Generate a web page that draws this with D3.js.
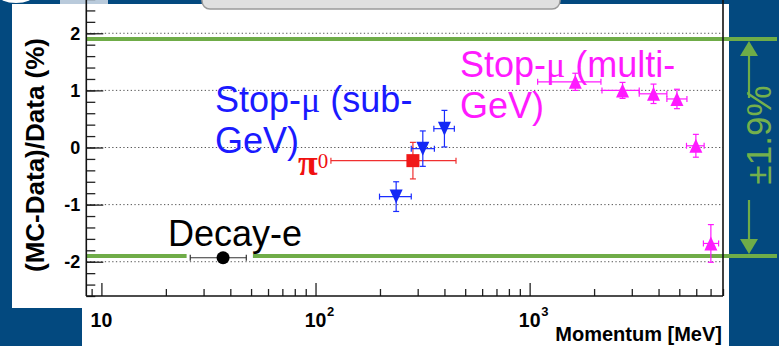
<!DOCTYPE html>
<html><head><meta charset="utf-8">
<script src="https://cdn.jsdelivr.net/npm/d3@7"></script>
<style>
html,body{margin:0;padding:0;background:#03497f;}
svg{display:block;}
</style></head>
<body>
<svg id="chart" width="779" height="346"></svg>
<script>
// ---- axis ticks ----
const yMajor = [-2, -1, 0, 1, 2];
const yMajorLabels = ["-2", "-1", "0", "1", "2"];
const yMinor = d3.range(-26, 27, 2).map(v => v / 10);
const xMajor = [10, 100, 1000];
const xMajorBase = ["10", "10", "10"];
const xMajorExp = ["", "2", "3"];
const xMinor = [9, 20, 30, 40, 50, 60, 70, 80, 90,
                200, 300, 400, 500, 600, 700, 800, 900,
                2000, 3000, 4000, 5000, 6000, 7000, 8000];

// ---- Decay-e ----
const decayMom = [37];
const decayVal = [-1.93];
const decayMomLo = [26];
const decayMomHi = [47.5];

// ---- pi0 ----
const pi0Mom = [285];
const pi0Val = [-0.23];
const pi0MomLo = [118];
const pi0MomHi = [453];
const pi0Err = [0.32];

// ---- Stop-mu (sub-GeV) ----
const subMom = [238, 317, 400];
const subVal = [-0.86, -0.02, 0.33];
const subMomLo = [199, 280, 357];
const subMomHi = [280, 359, 445];
const subErr = [0.26, 0.31, 0.32];

// ---- Stop-mu (multi-GeV) ----
const multiMom = [1634, 2716, 3790, 4875, 5976, 7022];
const multiVal = [1.15, 1.0, 0.94, 0.85, 0.03, -1.68];
const multiMomLo = [1090, 2177, 3250, 4375, 5402, 6480];
const multiMomHi = [2153, 3250, 4375, 5428, 6531, 7630];
const multiErr = [0.15, 0.14, 0.17, 0.17, 0.20, 0.33];

// ---- systematic band ----
const bandLimit = 1.9;
const bandGap = [25, 51]; // momentum span where the lower band line is broken

const BLUE_BG = "#03497f";
const GREEN = "#6fac48";
const SANS = "'Liberation Sans', Arial, Helvetica, sans-serif";
const SERIF = "'Liberation Serif', 'Times New Roman', serif";

const svg = d3.select("#chart");

// page background pieces
svg.append("rect").attr("x", 0).attr("y", 0).attr("width", 779).attr("height", 346).attr("fill", BLUE_BG);
svg.append("rect").attr("x", 12).attr("y", 4).attr("width", 717).attr("height", 304).attr("fill", "#fff");
svg.append("rect").attr("x", 82).attr("y", 300).attr("width", 647).attr("height", 46).attr("fill", "#fff");
svg.append("ellipse").attr("cx", 16).attr("cy", -5).attr("rx", 18).attr("ry", 8).attr("fill", "#fff");
svg.append("rect").attr("x", 60).attr("y", 0).attr("width", 48).attr("height", 4).attr("fill", "#b9cadb");

// scales
const x = d3.scaleLog().domain([8.5, 8000]).range([86.3, 723]);
const y = d3.scaleLinear().domain([-2.6, 2.6]).range([296, -1]);
const [xL, xR] = x.range();
const yB = y(-2.6), yT = y(2.6);

// dotted grid
svg.append("g").selectAll("line").data(yMajor).join("line")
  .attr("x1", xL).attr("x2", xR)
  .attr("y1", d => y(d)).attr("y2", d => y(d))
  .attr("stroke", "#555").attr("stroke-width", 1)
  .attr("stroke-dasharray", "1.3 2.4");

// band lines at +/- limit
const bandG = svg.append("g");
const bandSegs = [
  [y(bandLimit), xL, 777],
  [y(-bandLimit), xL, x(bandGap[0])],
  [y(-bandLimit), x(bandGap[1]), 777]
];
bandG.selectAll("line").data(bandSegs).join("line")
  .attr("x1", d => d[1]).attr("x2", d => d[2])
  .attr("y1", d => d[0]).attr("y2", d => d[0])
  .attr("stroke", GREEN).attr("stroke-width", 4.2);

// left axis (ticks pointing into the frame)
const yAxisG = svg.append("g").attr("transform", `translate(${xL},0)`);
yAxisG.call(d3.axisLeft(y).tickValues(yMinor).tickSize(-9).tickFormat(""));
const yAxisMajor = svg.append("g").attr("transform", `translate(${xL},0)`)
  .call(d3.axisLeft(y).tickValues(yMajor).tickSize(-17).tickPadding(6)
        .tickFormat((d, i) => yMajorLabels[i]));
[yAxisG, yAxisMajor].forEach(g => {
  g.select(".domain").remove();
  g.selectAll("line").attr("stroke", "#222").attr("stroke-width", 1.3);
});
yAxisMajor.selectAll("text").attr("font-family", SANS).attr("font-weight", "bold")
  .attr("font-size", 18).attr("fill", "#000");

// bottom axis (ticks pointing up)
const xMinorG = svg.append("g").attr("transform", `translate(0,${yB})`)
  .call(d3.axisBottom(x).tickValues(xMinor).tickSize(-7).tickFormat(""));
const xMajorG = svg.append("g").attr("transform", `translate(0,${yB})`)
  .call(d3.axisBottom(x).tickValues(xMajor).tickSize(-13).tickFormat(""));
[xMinorG, xMajorG].forEach(g => {
  g.select(".domain").remove();
  g.selectAll("line").attr("stroke", "#222").attr("stroke-width", 1.3);
});

// x tick labels with exponents
const xLab = svg.append("g").attr("font-family", SANS).attr("font-weight", "bold").attr("fill", "#000");
xMajor.forEach((v, i) => {
  xLab.append("text").attr("x", x(v)).attr("y", 327).attr("text-anchor", "middle")
    .attr("font-size", 19.5).text(xMajorBase[i]);
  if (xMajorExp[i]) {
    xLab.append("text").attr("x", x(v) + 11.5).attr("y", 316)
      .attr("font-size", 13).text(xMajorExp[i]);
  }
});

// frame
const frame = svg.append("g").attr("stroke", "#111").attr("stroke-width", 1.6).attr("fill", "none");
frame.append("line").attr("x1", xL).attr("x2", xL).attr("y1", yT).attr("y2", yB);
frame.append("line").attr("x1", xR).attr("x2", xR).attr("y1", yT).attr("y2", yB);
frame.append("line").attr("x1", xL).attr("x2", xR).attr("y1", yB).attr("y2", yB);

// axis titles
svg.append("text").attr("x", 722).attr("y", 341).attr("text-anchor", "end")
  .attr("font-family", SANS).attr("font-weight", "bold").attr("font-size", 20)
  .text("Momentum [MeV]");
svg.append("text").attr("transform", "translate(44,155) rotate(-90)")
  .attr("text-anchor", "middle").attr("font-family", SANS).attr("font-weight", "bold")
  .attr("font-size", 26).text("(MC-Data)/Data (%)");

// error bar helper
function errorBars(g, mom, val, lo, hi, err, color) {
  const cap = 3;
  mom.forEach((m, i) => {
    const cx = x(m), cy = y(val[i]);
    const a = x(lo[i]), b = x(hi[i]);
    const s = g.append("g").attr("stroke", color).attr("stroke-width", 1.2);
    s.append("line").attr("x1", a).attr("x2", b).attr("y1", cy).attr("y2", cy);
    s.append("line").attr("x1", a).attr("x2", a).attr("y1", cy - cap).attr("y2", cy + cap);
    s.append("line").attr("x1", b).attr("x2", b).attr("y1", cy - cap).attr("y2", cy + cap);
    if (err && err[i]) {
      const t = y(val[i] + err[i]), u = y(val[i] - err[i]);
      s.append("line").attr("x1", cx).attr("x2", cx).attr("y1", t).attr("y2", u);
      s.append("line").attr("x1", cx - cap).attr("x2", cx + cap).attr("y1", t).attr("y2", t);
      s.append("line").attr("x1", cx - cap).attr("x2", cx + cap).attr("y1", u).attr("y2", u);
    }
  });
}
const marks = svg.append("g");

// Decay-e
errorBars(marks, decayMom, decayVal, decayMomLo, decayMomHi, null, "#333");
marks.selectAll("circle.decay").data(decayMom).join("circle").attr("class", "decay")
  .attr("cx", d => x(d)).attr("cy", (d, i) => y(decayVal[i])).attr("r", 6.5).attr("fill", "#000");

// pi0
errorBars(marks, pi0Mom, pi0Val, pi0MomLo, pi0MomHi, pi0Err, "#f03030");
marks.selectAll("rect.pi0").data(pi0Mom).join("rect").attr("class", "pi0")
  .attr("x", d => x(d) - 6.5).attr("y", (d, i) => y(pi0Val[i]) - 6.5)
  .attr("width", 13).attr("height", 13).attr("fill", "#f01818");

// sub-GeV stopping muons (down triangles)
errorBars(marks, subMom, subVal, subMomLo, subMomHi, subErr, "#1a2cff");
marks.selectAll("path.sub").data(subMom).join("path").attr("class", "sub")
  .attr("d", (d, i) => {
    const cx = x(d), cy = y(subVal[i]);
    return `M${cx - 6.5},${cy - 7}L${cx + 6.5},${cy - 7}L${cx},${cy + 7}Z`;
  }).attr("fill", "#1428f5");

// multi-GeV stopping muons (up triangles)
errorBars(marks, multiMom, multiVal, multiMomLo, multiMomHi, multiErr, "#ff1aff");
marks.selectAll("path.multi").data(multiMom).join("path").attr("class", "multi")
  .attr("d", (d, i) => {
    const cx = x(d), cy = y(multiVal[i]);
    return `M${cx - 6.5},${cy + 7}L${cx + 6.5},${cy + 7}L${cx},${cy - 7}Z`;
  }).attr("fill", "#ff1aff");

// sample labels
const lab = svg.append("g").attr("font-family", SANS).attr("font-size", 36);
const t1 = lab.append("text").attr("x", 215).attr("y", 112).attr("fill", "#1a1aff");
t1.append("tspan").text("Stop-");
t1.append("tspan").attr("font-family", SERIF).text("μ");
t1.append("tspan").text(" (sub-");
lab.append("text").attr("x", 215).attr("y", 153).attr("fill", "#1a1aff").text("GeV)");

const t2 = lab.append("text").attr("x", 460).attr("y", 77).attr("fill", "#ff1aff");
t2.append("tspan").text("Stop-");
t2.append("tspan").attr("font-family", SERIF).text("μ");
t2.append("tspan").text(" (multi-");
lab.append("text").attr("x", 460).attr("y", 118).attr("fill", "#ff1aff").text("GeV)");

const t3 = lab.append("text").attr("x", 298).attr("y", 175).attr("fill", "#f01010")
  .attr("font-family", SERIF);
t3.append("tspan").attr("font-weight", "bold").text("π");
t3.append("tspan").attr("font-size", 21).attr("dy", -7).text("0");

lab.append("text").attr("x", 168).attr("y", 246).attr("fill", "#000").text("Decay-e");

// systematic band annotation on the right
const ax = 749;
const ann = svg.append("g").attr("fill", GREEN).attr("stroke", GREEN);
const topTip = y(bandLimit) + 2, botTip = y(-bandLimit) - 2;
ann.append("path").attr("stroke", "none")
  .attr("d", `M${ax},${topTip}L${ax - 9},${topTip + 15}L${ax + 9},${topTip + 15}Z`);
ann.append("path").attr("stroke", "none")
  .attr("d", `M${ax},${botTip}L${ax - 9},${botTip - 15}L${ax + 9},${botTip - 15}Z`);
ann.append("line").attr("x1", ax).attr("x2", ax).attr("y1", topTip + 14).attr("y2", 98).attr("stroke-width", 2.2);
ann.append("line").attr("x1", ax).attr("x2", ax).attr("y1", 200).attr("y2", botTip - 14).attr("stroke-width", 2.2);
svg.append("text").attr("transform", "translate(771,135) rotate(-90)")
  .attr("text-anchor", "middle").attr("font-family", SANS).attr("font-size", 35)
  .attr("fill", "#74b04c").text("±" + bandLimit + "%");

// header box at the top
svg.append("rect").attr("x", 202).attr("y", -12).attr("width", 358).attr("height", 21)
  .attr("rx", 8).attr("fill", "#e0e0e0").attr("stroke", "#9a9a9a").attr("stroke-width", 1.5);
</script>
</body></html>
